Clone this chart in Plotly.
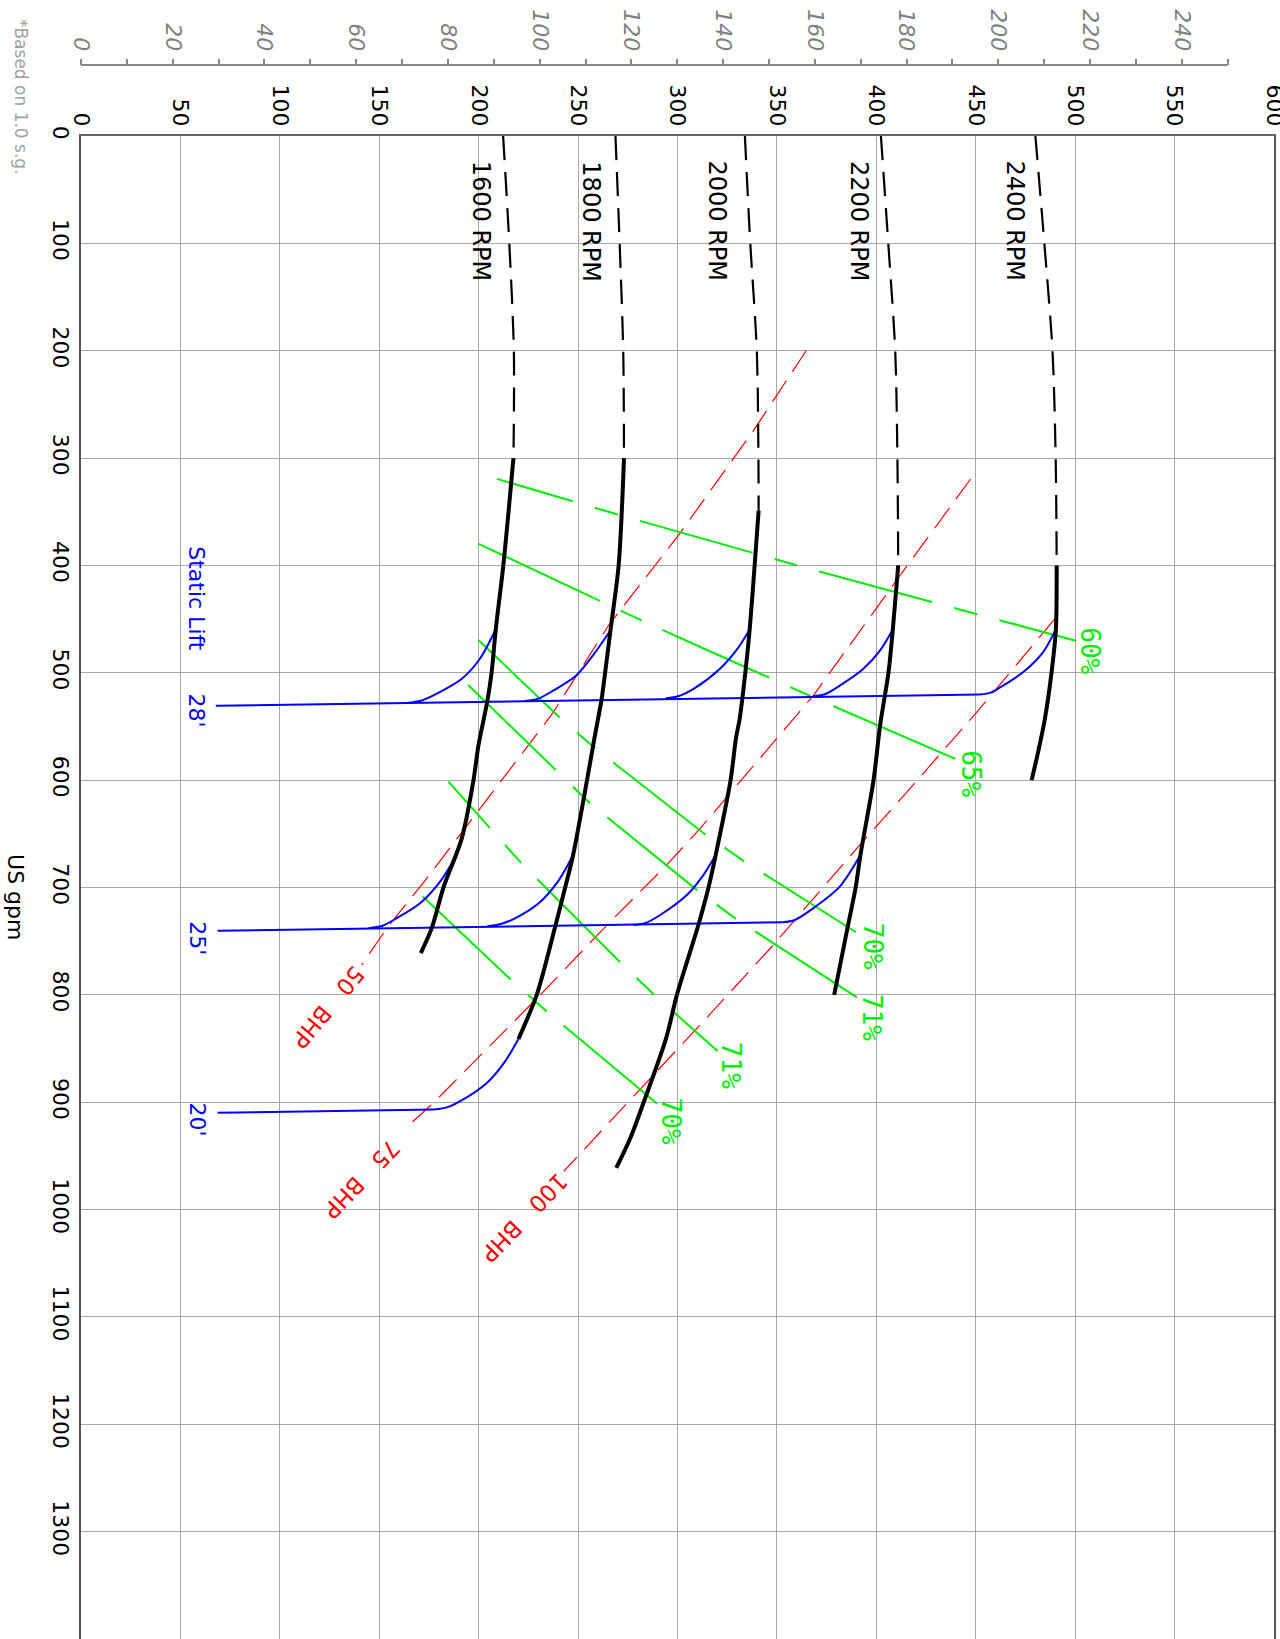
import plotly.graph_objects as go

# ---------------- data (head in ft, flow in US gpm) ----------------
head_ticks = list(range(0, 601, 50))
gpm_ticks = list(range(0, 1301, 100))
psi_label_ticks = list(range(0, 241, 20))
psi_minor_ticks = list(range(10, 251, 20))

# pump curves: dashed (shut-off) part and solid (operating) part
c1600_dash_gpm = [0, 100, 200, 300]
c1600_dash_head = [212.3, 215.4, 217.7, 217.5]
c1600_gpm = [300, 400, 459.4, 500, 527, 567.5, 600, 654.2, 700, 737.9, 761.1]
c1600_head = [217.5, 212.4, 208.6, 206.5, 204.3, 199.9, 197.4, 191.5, 182.3, 176.4, 170.9]

c1800_dash_gpm = [0, 100, 200, 300]
c1800_dash_head = [268.8, 270.9, 272.7, 273.1]
c1800_gpm = [300, 400, 460.4, 500, 525, 561, 600, 669.7, 700, 736.3, 800, 841.1]
c1800_head = [273.1, 270.4, 266.3, 263.6, 261.8, 258.2, 254.5, 247.5, 243.5, 238.5, 229.2, 220.0]

c2000_dash_gpm = [0, 100, 200, 300, 349]
c2000_dash_head = [333.9, 336.6, 339.9, 340.7, 340.8]
c2000_gpm = [349, 400, 459.6, 500, 542.6, 561, 600, 669.8, 700, 734.9, 800, 840.3, 900, 933.3, 961.2]
c2000_head = [340.8, 338.8, 336.3, 334.1, 331.3, 329.4, 326.7, 319.2, 315.6, 310.5, 299.7, 294.3, 283.0, 276.3, 269.2]

c2200_dash_gpm = [0, 100, 200, 300, 400]
c2200_dash_head = [402.3, 406.0, 409.5, 410.6, 411.0]
c2200_gpm = [400, 459.6, 500, 548.8, 600, 669.8, 700, 734.9, 800]
c2200_head = [411.0, 408.3, 406.1, 401.9, 398.6, 392.0, 389.6, 385.8, 378.8]

c2400_dash_gpm = [0, 100, 200, 300, 400]
c2400_dash_head = [480.0, 484.5, 488.6, 490.2, 490.7]
c2400_gpm = [400, 459.6, 500, 542.6, 573.6, 600]
c2400_head = [490.7, 490.3, 488.1, 484.8, 481.4, 478.1]

rpm_labels = ["1600 RPM", "1800 RPM", "2000 RPM", "2200 RPM", "2400 RPM"]
rpm_label_head = [201.0, 256.5, 319.8, 391.0, 469.7]
rpm_label_gpm = [79.5, 79.5, 79.5, 79.5, 79.5]

# static lift limit lines (blue)
lift28_head = [67.8, 451.8]
lift28_gpm = [530.7, 520.3]
lift28_a1600_head = [164.8, 171.4, 179.2, 191.7, 200.7, 208.6]
lift28_a1600_gpm = [527.9, 525.8, 519.2, 505.3, 486.7, 459.4]
lift28_a1800_head = [223.2, 229.7, 236.6, 249.2, 258.2, 266.3]
lift28_a1800_gpm = [526.3, 524.3, 517.6, 502.2, 482.0, 460.4]
lift28_a2000_head = [294.1, 300.4, 308.5, 321.5, 330.0, 336.3]
lift28_a2000_gpm = [523.8, 521.9, 514.6, 496.0, 478.0, 459.6]
lift28_a2200_head = [368.1, 374.1, 381.8, 393.5, 401.9, 408.3]
lift28_a2200_gpm = [521.9, 520.0, 511.7, 496.2, 479.1, 459.6]
lift28_a2400_head = [451.8, 457.6, 462.2, 473.9, 483.9, 490.3]
lift28_a2400_gpm = [520.3, 518.5, 513.7, 499.3, 480.7, 459.6]

lift25_head = [68.7, 352.8]
lift25_gpm = [740.4, 732.4]
lift25_a1600_head = [144.6, 151.3, 158.8, 170.5, 180.6, 189.0]
lift25_a1600_gpm = [737.9, 735.9, 728.6, 714.7, 694.5, 669.7]
lift25_a1800_head = [204.1, 210.6, 218.0, 230.0, 240.0, 247.5]
lift25_a1800_gpm = [736.3, 734.3, 729.0, 715.0, 694.0, 669.7]
lift25_a2000_head = [277.9, 284.1, 291.3, 304.7, 313.0, 319.2]
lift25_a2000_gpm = [734.9, 732.9, 725.6, 707.0, 688.4, 669.8]
lift25_a2200_head = [352.8, 358.7, 368.2, 381.6, 392.0]
lift25_a2200_gpm = [732.4, 730.5, 719.4, 699.2, 669.8]

lift20_head = [68.7, 177.6]
lift20_gpm = [909.9, 906.8]
lift20_a1800_head = [177.6, 184.0, 190.7, 204.1, 213.3, 220.0]
lift20_a1800_gpm = [906.8, 904.8, 899.0, 882.0, 861.9, 841.1]

lift_labels = ["Static Lift", "28'", "25'", "20'"]
lift_label_head = [58.3, 58.3, 58.6, 58.6]
lift_label_gpm = [431.4, 535.0, 746.9, 915.6]

# brake horsepower lines (red)
bhp50_head = [364.7, 338.7, 301.7, 265.4, 236.6, 200.7, 173.9, 153.8, 141.2]
bhp50_gpm = [200, 273, 368.9, 455.7, 539.3, 626.3, 691.4, 737.9, 772]
bhp75_head = [447.4, 411.9, 368.4, 349.8, 311.4, 294.6, 264.5, 231.0, 207.0, 177.3, 163.9]
bhp75_gpm = [319.5, 409.4, 521, 561.2, 645, 679, 735, 800, 845, 900.5, 923]
bhp100_head = [489.8, 451.3, 436.0, 417.0, 391.6, 348.2, 311.4, 276.3, 242.8]
bhp100_gpm = [449.7, 535, 567.4, 607.7, 660.5, 753.5, 827.9, 897.7, 964.3]
bhp_labels = ["50\u00a0\u00a0\u00a0BHP", "75\u00a0\u00a0\u00a0BHP", "100\u00a0\u00a0\u00a0BHP"]
bhp_label_head = [124.2, 141.1, 222.6]
bhp_label_gpm = [811.4, 971.0, 1007.3]
bhp_label_angle = [130, 134, 134]

# efficiency lines (green)
eff60_head = [209.2, 247.2, 270.3, 337.6, 371.4, 428.2, 461.7, 500.3]
eff60_gpm = [319.4, 340.5, 352.8, 388.1, 405.7, 434.2, 450.9, 470.1]
eff65_head = [200.0, 260.9, 282.1, 311.5, 346.2, 378.5, 440.1]
eff65_gpm = [379.9, 433.4, 451.4, 476.0, 504.8, 531.2, 580.4]
eff70a_head = [200.0, 240.6, 258.5, 313.8, 333.2, 389.8]
eff70a_gpm = [469.7, 541.5, 570.3, 650.4, 675.2, 741.7]
eff71a_head = [194.7, 238.4, 255.7, 309.7, 329.0, 390.2]
eff71a_gpm = [511.4, 590.5, 621.0, 702.2, 728.7, 802.3]
eff71b_head = [184.8, 205.7, 221.2, 270.8, 287.9, 320.1]
eff71b_gpm = [601.4, 644.9, 676.8, 769.0, 799.2, 852.3]
eff70b_head = [171.9, 216.3, 234.3, 290.1]
eff70b_gpm = [708.4, 786.0, 815.6, 901.9]
eff_labels = ["60%", "65%", "70%", "71%", "71%", "70%"]
eff_label_head = [507.3, 447.6, 398.1, 398.1, 326.9, 296.7]
eff_label_gpm = [479.7, 594.4, 754.8, 821.1, 866.1, 918.1]

# ---------------- styles ----------------
BLACK = "black"
BLUE = "#0000ff"
RED = "#ff0000"
GREEN = "#00ee00"
PUMP_DASH = "24px,12px"
RED_DASH = "25px,11px"
eff_dashes = [
    "79px,23px,24px,23px,117px,23px,23px,23px,117px,23px,24px,23px,80px",
    "134px,23px,23px,23px,117px,23px,22px,25px,133px",
    "112px,23px,24px,23px,117px,23px,24px,23px,110px",
    "122px,24px,24px,22px,116px,24px,24px,23px,122px",
    "62px,23px,24px,23px,117px,23px,24px,23px,63px",
    "121px,23px,25px,22px,122px",
]

fig = go.Figure()


def add_line(xs, ys, color, width, dash="solid", smooth=False):
    line = dict(color=color, width=width, dash=dash)
    if smooth:
        line.update(shape="spline", smoothing=0.8)
    fig.add_trace(go.Scatter(x=xs, y=ys, mode="lines", line=line,
                             hoverinfo="skip", showlegend=False))


# red BHP
for hx, gy in [(bhp50_head, bhp50_gpm), (bhp75_head, bhp75_gpm), (bhp100_head, bhp100_gpm)]:
    add_line(hx, gy, RED, 1.2, RED_DASH)

# green efficiency
eff_lines = [(eff60_head, eff60_gpm), (eff65_head, eff65_gpm), (eff70a_head, eff70a_gpm),
             (eff71a_head, eff71a_gpm), (eff71b_head, eff71b_gpm), (eff70b_head, eff70b_gpm)]
for (hx, gy), d in zip(eff_lines, eff_dashes):
    add_line(hx, gy, GREEN, 2, d)

# blue static lift
for hx, gy in [(lift28_head, lift28_gpm), (lift25_head, lift25_gpm), (lift20_head, lift20_gpm)]:
    add_line(hx, gy, BLUE, 2)
for hx, gy in [(lift28_a1600_head, lift28_a1600_gpm), (lift28_a1800_head, lift28_a1800_gpm),
               (lift28_a2000_head, lift28_a2000_gpm), (lift28_a2200_head, lift28_a2200_gpm),
               (lift28_a2400_head, lift28_a2400_gpm),
               (lift25_a1600_head, lift25_a1600_gpm), (lift25_a1800_head, lift25_a1800_gpm),
               (lift25_a2000_head, lift25_a2000_gpm), (lift25_a2200_head, lift25_a2200_gpm),
               (lift20_a1800_head, lift20_a1800_gpm)]:
    add_line(hx, gy, BLUE, 2, smooth=True)

# black pump curves
for dh, dg, sh, sg in [(c1600_dash_head, c1600_dash_gpm, c1600_head, c1600_gpm),
                       (c1800_dash_head, c1800_dash_gpm, c1800_head, c1800_gpm),
                       (c2000_dash_head, c2000_dash_gpm, c2000_head, c2000_gpm),
                       (c2200_dash_head, c2200_dash_gpm, c2200_head, c2200_gpm),
                       (c2400_dash_head, c2400_dash_gpm, c2400_head, c2400_gpm)]:
    add_line(dh, dg, BLACK, 2.2, PUMP_DASH, smooth=True)
    add_line(sh, sg, BLACK, 4, smooth=True)

# invisible trace to carry the psi axis
fig.add_trace(go.Scatter(x=[0], y=[0], xaxis="x2", yaxis="y", mode="markers",
                         marker=dict(opacity=0), hoverinfo="skip", showlegend=False))

# ---------------- annotations ----------------
ann = []
for t, h, g in zip(rpm_labels, rpm_label_head, rpm_label_gpm):
    ann.append(dict(x=h, y=g, xref="x", yref="y", text=t, showarrow=False, textangle=90,
                    xanchor="center", yanchor="middle",
                    font=dict(family="DejaVu Sans", size=24, color=BLACK)))
for t, h, g in zip(lift_labels, lift_label_head, lift_label_gpm):
    ann.append(dict(x=h, y=g, xref="x", yref="y", text=t, showarrow=False, textangle=90,
                    xanchor="center", yanchor="middle",
                    font=dict(family="DejaVu Sans", size=22, color=BLUE)))
for t, h, g, a in zip(bhp_labels, bhp_label_head, bhp_label_gpm, bhp_label_angle):
    ann.append(dict(x=h, y=g, xref="x", yref="y", text=t, showarrow=False, textangle=a,
                    xanchor="center", yanchor="middle",
                    font=dict(family="DejaVu Sans", size=23, color=RED)))
for t, h, g in zip(eff_labels, eff_label_head, eff_label_gpm):
    ann.append(dict(x=h, y=g, xref="x", yref="y", text=t, showarrow=False, textangle=90,
                    xanchor="center", yanchor="middle",
                    font=dict(family="DejaVu Sans Mono", size=26, color=GREEN)))
ann.append(dict(x=-0.0545, y=0.4714, xref="paper", yref="paper", text="US gpm", showarrow=False,
                textangle=90, xanchor="center", yanchor="middle",
                font=dict(family="DejaVu Sans", size=22, color=BLACK)))
ann.append(dict(x=-0.0503, y=0.9797, xref="paper", yref="paper", text="*Based on 1.0 s.g.",
                showarrow=False, textangle=90, xanchor="center", yanchor="middle",
                font=dict(family="DejaVu Sans", size=17, color="#a0a0a0")))

PSI_PER_FT = 1 / 2.3067

fig.update_layout(
    width=1280, height=1639,
    margin=dict(l=81, r=6, t=65, b=0),
    plot_bgcolor="white", paper_bgcolor="white",
    showlegend=False,
    annotations=ann,
    xaxis=dict(range=[0, 600], side="top", tickvals=head_ticks, tickangle=90,
               showgrid=True, gridcolor="#a8a8a8", gridwidth=1,
               showline=True, linecolor="#666666", linewidth=1.5, mirror=False,
               ticks="", zeroline=False, anchor="y", automargin=False,
               ticklabeloverflow="allow",
               tickfont=dict(family="DejaVu Sans", size=22, color=BLACK)),
    yaxis=dict(range=[1400, 0], tickvals=gpm_ticks, tickangle=90,
               showgrid=True, gridcolor="#a8a8a8", gridwidth=1,
               showline=True, linecolor="#555555", linewidth=1.5, mirror=True,
               ticks="", zeroline=False, domain=[0, 1503 / 1574], automargin=False,
               tickfont=dict(family="DejaVu Sans", size=22, color=BLACK)),
    xaxis2=dict(overlaying="x", anchor="free", position=1, side="top",
                range=[0, 600 * PSI_PER_FT], tickvals=psi_label_ticks,
                ticks="outside", ticklen=6, tickwidth=1.5, tickcolor="#888888",
                minor=dict(tickvals=psi_minor_ticks, ticks="outside", ticklen=6,
                           tickwidth=1.5, tickcolor="#888888", showgrid=False),
                showline=False, showgrid=False, zeroline=False, tickangle=90,
                automargin=False,
                tickfont=dict(family="DejaVu Sans", size=22, color="#808080", style="italic")),
    shapes=[dict(type="line", xref="x2", yref="paper", x0=0, x1=250, y0=1, y1=1,
                 line=dict(color="#888888", width=2))],
)

# remove the browser's default 8 px body margin so the figure sits at the page corner
fig.write_html("out.html",
               config={"displayModeBar": False},
               post_script="document.body.style.margin='0';"
                           "document.documentElement.style.overflow='hidden';")
